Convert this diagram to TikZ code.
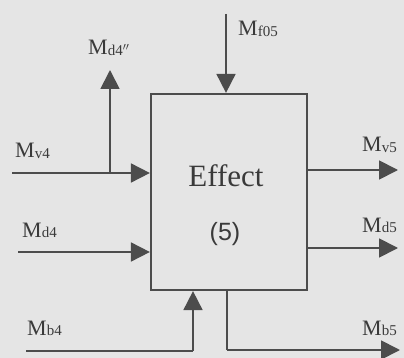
\documentclass[tikz,border=0pt]{standalone}
\usepackage{fontspec}
\setmainfont{Liberation Serif}
\newfontfamily\numfont{Liberation Sans}
\usetikzlibrary{arrows.meta}
\definecolor{bgc}{HTML}{E5E5E5}
\definecolor{linec}{HTML}{4C4C4C}
\definecolor{textc}{HTML}{3A3A3A}
\newcommand{\Mlab}[1]{M\raisebox{-0.5pt}{\fontsize{15}{15}\selectfont #1}}
\begin{document}
\begin{tikzpicture}[x=1pt,y=-1pt,
  flow/.style={draw=linec,line width=1.8pt,-{Triangle[length=19pt,width=19pt]}},
  plain/.style={draw=linec,line width=1.8pt},
  lbl/.style={text=textc,inner sep=0pt,anchor=base west,font=\fontsize{22}{22}\selectfont},
  boxstyle/.style={draw=linec,line width=2.2pt,minimum width=156pt,minimum height=196pt,inner sep=0pt}]
\fill[bgc] (0,0) rectangle (404,358);
\useasboundingbox (0,0) rectangle (404,358);
\node[boxstyle] (box) at (229,192) {};
\node[text=textc,font=\fontsize{31}{31}\selectfont] (eff) at (226,176) {Effect};
\node[text=textc,font=\numfont\fontsize{25}{25}\selectfont] (num) at (225,234) {(5)};
% coordinates
\coordinate (f0) at (226,14);
\coordinate (v4) at (12,173);
\coordinate (j) at (110,173);
\coordinate (d4pp) at (110,70);
\coordinate (d4) at (18,252);
\coordinate (b4) at (26,351);
\coordinate (b4x) at (193,351);
\coordinate (b5x) at (227,350);
\coordinate (b5) at (400,350);
\coordinate (v5) at (398,170);
\coordinate (d5) at (398,248);
% connectors
\draw[flow] (f0) -- (box.north -| f0);
\draw[flow] (v4) -- (box.west |- v4);
\draw[flow] (j) -- (d4pp);
\draw[flow] (d4) -- (box.west |- d4);
\draw[plain] (b4) -- (b4x);
\draw[flow] (b4x) -- (box.south -| b4x);
\draw[plain] (box.south -| b5x) -- (b5x);
\draw[flow] (b5x) -- (b5);
\draw[flow] (box.east |- v5) -- (v5);
\draw[flow] (box.east |- d5) -- (d5);
% labels
\node[lbl] (lf05) at (238,36) {\Mlab{f05}};
\node[lbl] (ld4pp) at (88,55) {\Mlab{d4$''$}};
\node[lbl] (lv4) at (15,158) {\Mlab{v4}};
\node[lbl] (ld4) at (22,237) {\Mlab{d4}};
\node[lbl] (lb4) at (27,335) {\Mlab{b4}};
\node[lbl] (lv5) at (362,152) {\Mlab{v5}};
\node[lbl] (ld5) at (362,232) {\Mlab{d5}};
\node[lbl] (lb5) at (362,335) {\Mlab{b5}};
\end{tikzpicture}
\end{document}
